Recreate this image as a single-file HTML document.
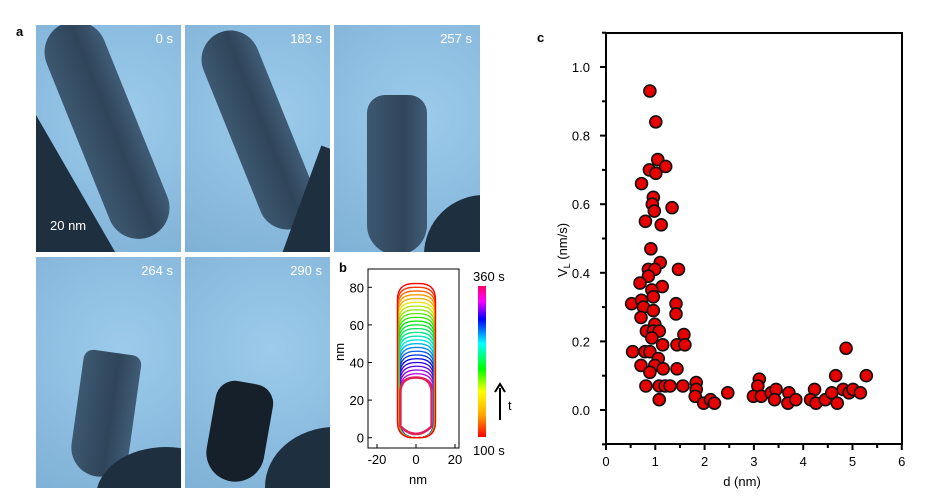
<!DOCTYPE html>
<html style="overflow:hidden;width:929px;height:499px"><head><meta charset="utf-8"><style>
html,body{margin:0;width:929px;height:499px;overflow:hidden}
body{background:#fff;position:relative;font-family:"Liberation Sans",sans-serif}
.p{position:absolute;overflow:hidden;background:radial-gradient(circle at 60% 40%,#9ccbeb,#7fb1d6)}
.rod{position:absolute;border-radius:40px;background:linear-gradient(90deg,#3c5870,#2f455a 60%,#405c75)}
.t{position:absolute;color:#fff;font-size:13px}
.lbl{position:absolute;font-weight:bold;font-size:13px}
</style></head><body>
<div class="lbl" style="left:16px;top:24px">a</div>
<div class="p" style="left:36px;top:25px;width:145px;height:227px">
 <div class="rod" style="left:40px;top:-10px;width:62px;height:230px;transform:rotate(-22deg)"></div>
 <div style="position:absolute;left:-40px;top:60px;width:80px;height:220px;background:#1e2f40;transform:rotate(-30deg)"></div>
 <div class="t" style="right:8px;top:6px">0 s</div><div class="t" style="left:14px;top:193px">20 nm</div></div>
<div class="p" style="left:185px;top:25px;width:145px;height:227px">
 <div class="rod" style="left:45px;top:0px;width:58px;height:210px;transform:rotate(-22deg)"></div>
 <div style="position:absolute;left:110px;top:130px;width:80px;height:140px;background:#1e2f40;transform:rotate(20deg)"></div>
 <div class="t" style="right:8px;top:6px">183 s</div></div>
<div class="p" style="left:334px;top:25px;width:146px;height:227px">
 <div class="rod" style="left:33px;top:70px;width:60px;height:160px;border-radius:18px 18px 30px 30px"></div>
 <div style="position:absolute;left:90px;top:170px;width:120px;height:120px;border-radius:50%;background:#1e2f40"></div>
 <div class="t" style="right:8px;top:6px">257 s</div></div>
<div class="p" style="left:36px;top:257px;width:145px;height:231px">
 <div class="rod" style="left:40px;top:95px;width:58px;height:125px;border-radius:10px 10px 30px 30px;transform:rotate(8deg)"></div>
 <div style="position:absolute;left:60px;top:190px;width:140px;height:100px;border-radius:50%;background:#1e2f40"></div>
 <div class="t" style="right:8px;top:6px">264 s</div></div>
<div class="p" style="left:185px;top:257px;width:145px;height:231px">
 <div class="rod" style="left:25px;top:125px;width:58px;height:100px;border-radius:20px 20px 30px 30px;background:#15202b;transform:rotate(10deg)"></div>
 <div style="position:absolute;left:80px;top:170px;width:140px;height:120px;border-radius:50%;background:#1e2f40"></div>
 <div class="t" style="right:8px;top:6px">290 s</div></div>

<svg width="929" height="499" style="position:absolute;left:0;top:0;display:block" font-family="Liberation Sans, sans-serif">
<g id="pb">
 <rect x="334" y="257" width="196" height="233" fill="#fff"/>
 <text x="339" y="272" font-weight="bold" font-size="13">b</text>
 <rect x="368" y="269" width="91" height="179" fill="none" stroke="#000"/>
 <g id="bcont"></g>
 <g font-size="13" text-anchor="end" id="byt"></g>
 <g font-size="13" text-anchor="middle" id="bxt"></g>
 <text x="418" y="484" font-size="13" text-anchor="middle">nm</text>
 <text transform="translate(344,352) rotate(-90)" font-size="13" text-anchor="middle">nm</text>
 <defs><linearGradient id="cb" x1="0" y1="1" x2="0" y2="0">
  <stop offset="0" stop-color="#f00"/><stop offset="0.15" stop-color="#fa0"/><stop offset="0.3" stop-color="#ff0"/><stop offset="0.45" stop-color="#0f0"/><stop offset="0.62" stop-color="#0ff"/><stop offset="0.78" stop-color="#00f"/><stop offset="0.9" stop-color="#f0f"/><stop offset="1" stop-color="#f06"/></linearGradient></defs>
 <rect x="478" y="286" width="8" height="151" fill="url(#cb)"/>
 <text x="473" y="281" font-size="13">360 s</text><text x="473" y="455" font-size="13">100 s</text>
 <line x1="500" y1="420" x2="500" y2="388" stroke="#000" stroke-width="2"/><path d="M495,392 L500,384 L505,392" fill="none" stroke="#000" stroke-width="2"/>
 <text x="508" y="410" font-size="13">t</text>
</g>
<g>
 <text x="537" y="42" font-weight="bold" font-size="13">c</text>
 <rect x="606" y="33" width="296" height="411" fill="none" stroke="#000" stroke-width="2"/>
 <g id="xt" font-size="13" text-anchor="middle"></g>
 <g id="yt" font-size="13" text-anchor="end"></g>
 <text x="742" y="486" font-size="13" text-anchor="middle">d (nm)</text>
 <text transform="translate(567,250) rotate(-90)" font-size="13" text-anchor="middle">V<tspan font-size="9" dy="3">L</tspan><tspan dy="-3"> (nm/s)</tspan></text>
 <g id="pts"></g>
</g>
</svg>
<script>
const dVals=[0.89,1.01,1.05,1.21,0.88,1.01,0.72,0.96,0.94,0.98,1.34,0.80,1.12,0.91,1.10,1.47,0.86,0.99,0.86,0.69,1.14,0.93,0.96,0.52,0.72,0.76,0.96,1.42,1.42,0.71,0.99,0.82,0.96,1.08,0.93,1.58,1.44,1.60,1.15,0.79,0.89,0.54,1.06,0.71,0.99,1.16,1.44,0.89,0.81,1.08,1.20,1.30,1.56,1.08,1.83,1.83,1.81,1.98,2.12,2.20,2.47,3.11,3.08,2.99,3.15,3.35,3.45,3.42,3.71,3.69,3.85,4.23,4.15,4.26,4.45,4.58,4.66,4.69,4.87,4.81,4.93,5.01,5.16,5.28];
const vVals=[0.93,0.84,0.73,0.71,0.70,0.69,0.66,0.62,0.60,0.58,0.59,0.55,0.54,0.47,0.43,0.41,0.41,0.41,0.39,0.37,0.36,0.35,0.33,0.31,0.32,0.30,0.29,0.31,0.28,0.27,0.25,0.23,0.23,0.23,0.21,0.22,0.19,0.19,0.19,0.17,0.17,0.17,0.15,0.13,0.13,0.12,0.12,0.11,0.07,0.07,0.07,0.07,0.07,0.03,0.08,0.06,0.04,0.02,0.03,0.02,0.05,0.09,0.07,0.04,0.04,0.05,0.06,0.03,0.05,0.02,0.03,0.06,0.03,0.02,0.03,0.05,0.10,0.02,0.18,0.06,0.05,0.06,0.05,0.10];
const xTicks=[0,1,2,3,4,5,6];
const yTicks=["0.0","0.2","0.4","0.6","0.8","1.0"];
const bXTicks=[-20,0,20];
const bYTicks=[0,20,40,60,80];
const contourTops=[32,34,36,38,40,42,44,46,48,50,52,54,56,58,60,62,64,66,68,70,72,74,76,78,80,82];
const NS='http://www.w3.org/2000/svg';
const X=d=>606+d*49.3, Y=v=>410-v*343;
function mk(tag,attrs,parent){const e=document.createElementNS(NS,tag);for(const k in attrs)e.setAttribute(k,attrs[k]);parent.appendChild(e);return e;}
const xt=document.getElementById('xt'),yt=document.getElementById('yt'),pts=document.getElementById('pts');
xTicks.forEach(t=>{const l=mk('line',{x1:X(t),x2:X(t),y1:444,y2:450,stroke:'#000','stroke-width':2},xt);


if(t<6){mk('line',{x1:X(t+0.5),x2:X(t+0.5),y1:444,y2:448,stroke:'#000','stroke-width':2},xt);}
const s=mk('text',{x:X(t),y:466},xt);s.textContent=t;

});
yTicks.forEach(t=>{const v=parseFloat(t);mk('line',{x1:600,x2:606,y1:Y(v),y2:Y(v),stroke:'#000','stroke-width':2},yt);
mk('line',{x1:602,x2:606,y1:Y(v+0.1),y2:Y(v+0.1),stroke:'#000','stroke-width':2},yt);
const s=mk('text',{x:590,y:Y(v)+5},yt);s.textContent=t;

});
mk('line',{x1:602,x2:606,y1:Y(-0.1),y2:Y(-0.1),stroke:'#000','stroke-width':2},yt);
dVals.forEach((d,i)=>{const c=mk('circle',{cx:X(d),cy:Y(vVals[i]),r:6,fill:'#e60000',stroke:'#111','stroke-width':1.6},pts);

});
const BX=n=>416+n*1.95, BY=n=>437.7-n*1.88;
const bxt=document.getElementById('bxt'),byt=document.getElementById('byt'),bc=document.getElementById('bcont');
bXTicks.forEach(t=>{mk('line',{x1:BX(t),x2:BX(t),y1:448,y2:444,stroke:'#000'},bxt);const s=mk('text',{x:BX(t),y:464},bxt);s.textContent=t;});
bYTicks.forEach(t=>{mk('line',{x1:368,x2:372,y1:BY(t),y2:BY(t),stroke:'#000'},byt);const s=mk('text',{x:364,y:BY(t)+5},byt);s.textContent=t;});
contourTops.forEach((top,i)=>{const f=i/(contourTops.length-1);
const l=BX(-8-f*1.5),r=BX(9+f*1),b=BY(0),tp=BY(top),rr=Math.min(16,(r-l)/2);
const p=mk('path',{d:`M${l},${b-rr} L${l},${tp+rr} Q${l},${tp} ${l+rr},${tp} L${r-rr},${tp} Q${r},${tp} ${r},${tp+rr} L${r},${b-rr} Q${r},${b} ${r-rr},${b} L${l+rr},${b} Q${l},${b} ${l},${b-rr}Z`,fill:'none',stroke:`hsl(${(300-f*300+360)%360},100%,${f>0.85?50:45}%)`,'stroke-width':1.3},bc);

});
mk('path',{d:`M${BX(-8)},${BY(6)} L${BX(-8)},${BY(24)} Q${BX(-8)},${BY(32)} ${BX(0)},${BY(32)} Q${BX(8)},${BY(32)} ${BX(8)},${BY(24)} L${BX(8)},${BY(6)} Q${BX(0)},${BY(-2)} ${BX(-8)},${BY(6)}Z`,fill:'#fff',stroke:'#e0205a','stroke-width':2.5},bc);
</script>
</body></html>
